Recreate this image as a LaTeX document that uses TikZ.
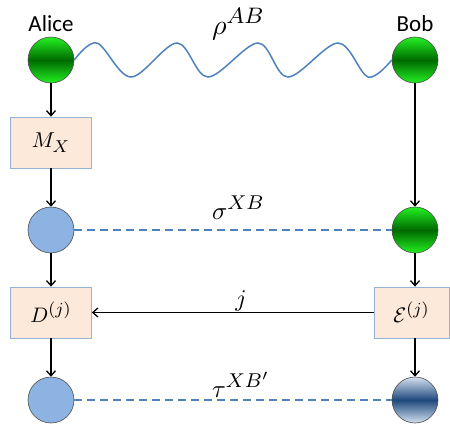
\documentclass[tikz,border=0pt]{standalone}
\usepackage{graphicx}
\usepackage{fontspec}
\setmainfont{Carlito}
\DeclareMathSizes{10}{10}{8}{6}
\usetikzlibrary{arrows.meta,calc}
\definecolor{ballgreen}{HTML}{22F022}
\definecolor{darkgreen}{HTML}{006A00}
\definecolor{ballblue}{HTML}{8DB3E2}
\definecolor{navy}{HTML}{1F497D}
\definecolor{paleblue}{HTML}{D3E0F0}
\definecolor{boxfill}{HTML}{FDE9D9}
\definecolor{boxborder}{HTML}{95B3D7}
\definecolor{wavecol}{HTML}{4F81BD}
\newcommand{\scaledmath}[2]{\scalebox{#1}{$#2$}}
\tikzset{
  greenball/.style={circle, draw=black!70, line width=0.6pt, minimum size=46pt, inner sep=0pt,
    top color=ballgreen, bottom color=ballgreen, middle color=darkgreen},
  blueball/.style={circle, draw=black!70, line width=0.6pt, minimum size=46pt, inner sep=0pt, fill=ballblue},
  navyball/.style={circle, draw=black!70, line width=0.6pt, minimum size=46pt, inner sep=0pt,
    top color=paleblue, bottom color=paleblue, middle color=navy},
  opbox/.style={rectangle, draw=boxborder, fill=boxfill, line width=0.8pt, minimum height=51pt,
    inner sep=0pt, font=\fontsize{10}{12}\selectfont},
  arr/.style={-{Straight Barb[length=5pt,width=9pt]}, line width=1.3pt, black},
  dashline/.style={wavecol, line width=1.3pt, dash pattern=on 8pt off 5pt},
  namelabel/.style={font=\fontsize{23}{26}\selectfont, inner sep=0pt},
  mathlabel/.style={font=\fontsize{10}{12}\selectfont, inner sep=0pt}
}
\begin{document}
\begin{tikzpicture}[x=1pt,y=-1pt]
\useasboundingbox (0,0) rectangle (450,424);
% names
\node[namelabel] (alice) at (51,24) {Alice};
\node[namelabel] (bob) at (415,24) {Bob};
% balls
\node[greenball] (A1) at (51,60) {};
\node[greenball] (B1) at (415,60) {};
\node[blueball] (A2) at (51,230) {};
\node[greenball] (B2) at (415,230) {};
\node[blueball] (A3) at (51,400) {};
\node[navyball] (B3) at (415,400) {};
% boxes
\node[opbox, minimum width=81pt] (MX) at (51,142.5) {\scaledmath{2.15}{M_X}};
\node[opbox, minimum width=81pt] (D) at (51,312.5) {\scaledmath{2.1}{D^{(j)}}};
\node[opbox, minimum width=75pt] (E) at (411.5,312.5) {\scaledmath{2.1}{\mathcal{E}^{(j)}}};
% labels
\node[mathlabel, anchor=base west] (rho) at (212,34) {\scaledmath{2.8}{\rho^{AB}}};
\node[mathlabel, anchor=base west] (sigma) at (212,219) {\scaledmath{2.5}{\sigma^{XB}}};
\node[mathlabel, anchor=base west] (tau) at (212,397) {\scaledmath{2.5}{\tau^{XB'}}};
\node[mathlabel, anchor=base] (jlab) at (241,306) {\scaledmath{2.4}{j}};
% wave
\draw[wavecol, line width=1.5pt] plot[smooth, tension=0.55] coordinates {
  (A1.east) (97,43) (131,77) (177,43) (208,77) (258,43) (288,77) (338,43) (368,77) (B1.west)};
% arrows
\draw[arr] (A1.south) -- (MX.north);
\draw[arr] (MX.south) -- (A2.north);
\draw[arr] (A2.south) -- (D.north);
\draw[arr] (D.south) -- (A3.north);
\draw[arr] (B1.south) -- (B2.north);
\draw[arr] (B2.south) -- (B2.south |- E.north);
\draw[arr] (B2.south |- E.south) -- (B3.north);
\draw[arr] (E.west) -- (D.east);
% dashed
\draw[dashline] (A2.east) -- (B2.west);
\draw[dashline] (A3.east) -- (B3.west);
\end{tikzpicture}
\end{document}
